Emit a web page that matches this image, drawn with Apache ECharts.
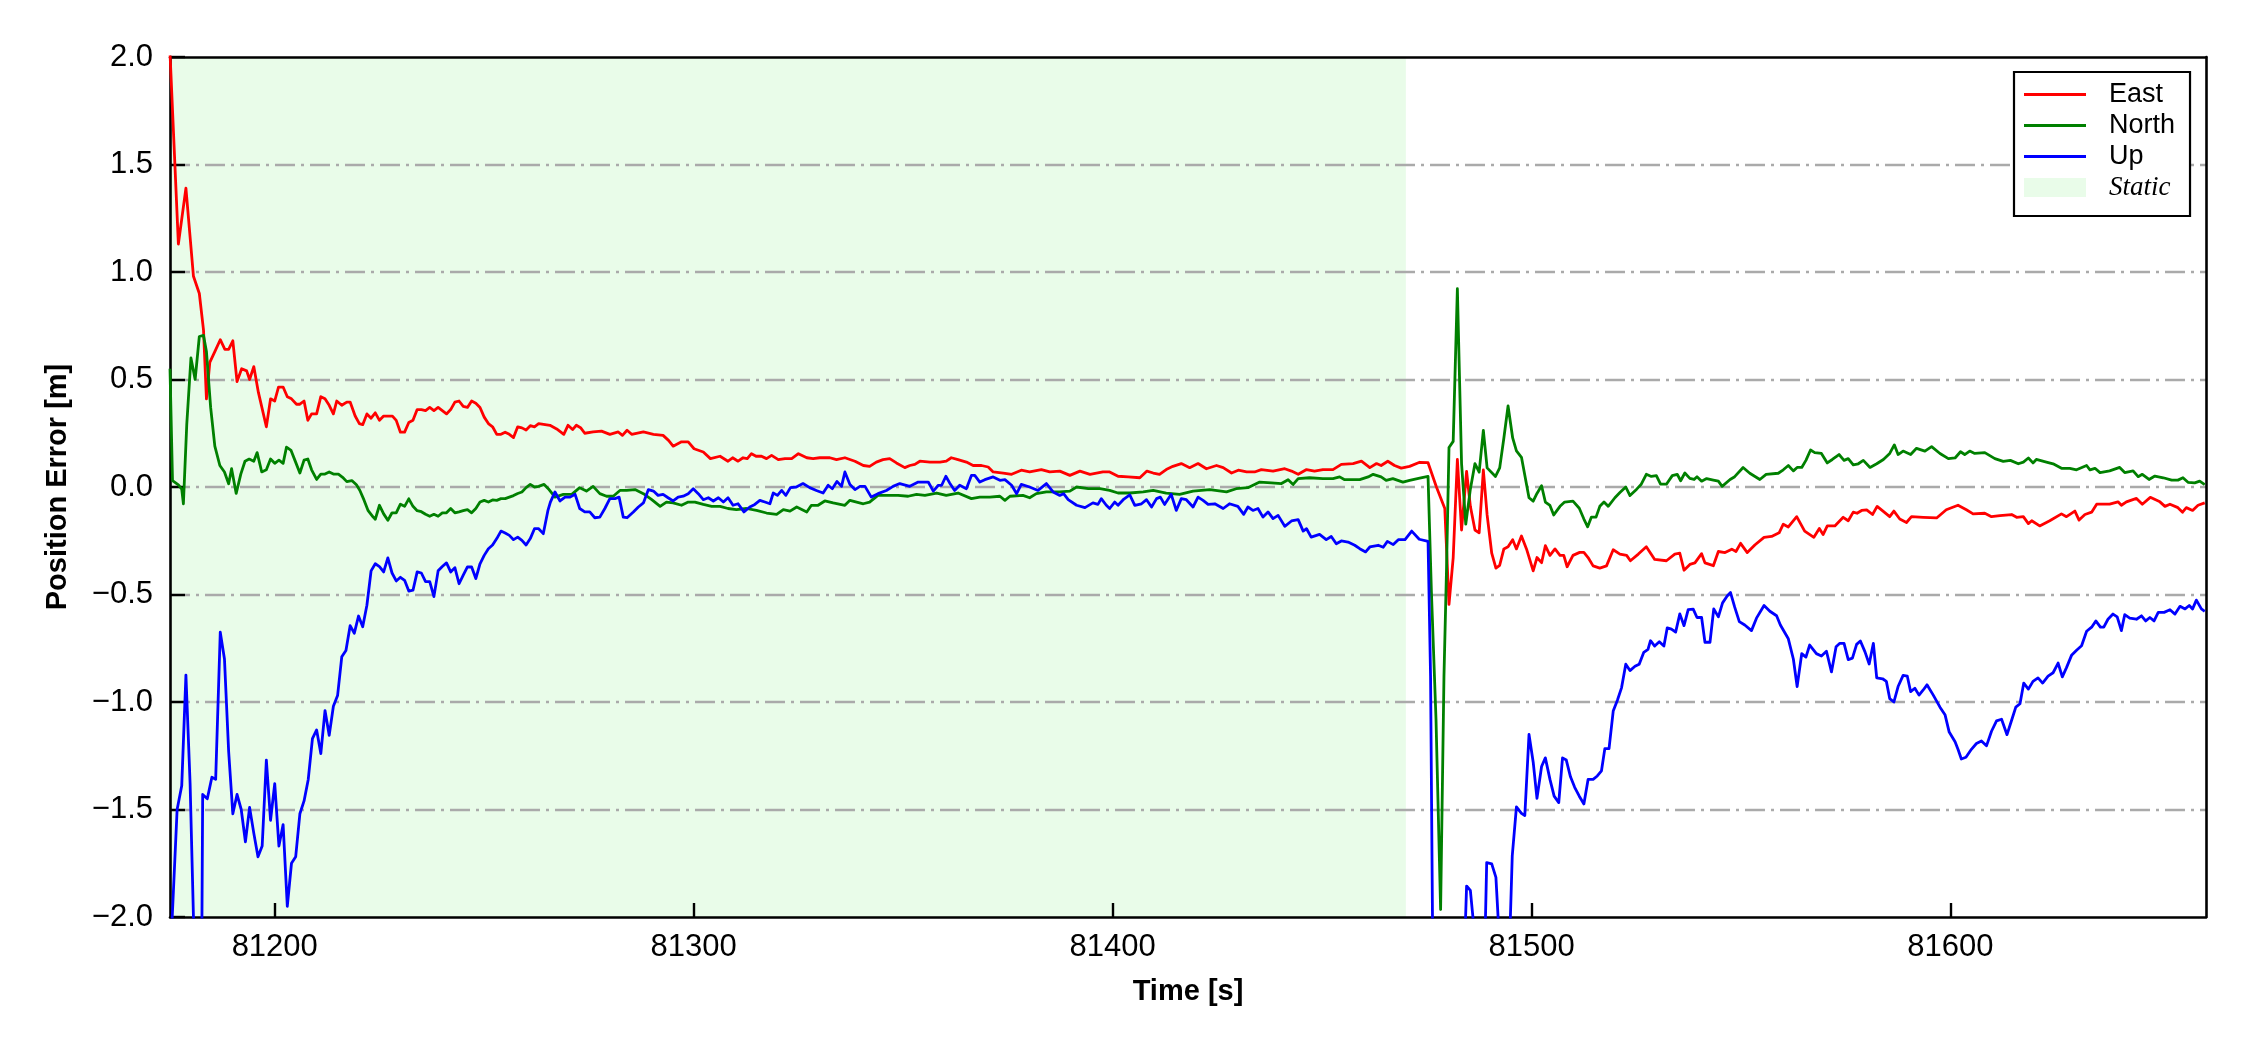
<!DOCTYPE html>
<html>
<head>
<meta charset="utf-8">
<script src="https://cdn.jsdelivr.net/npm/echarts@6/dist/echarts.min.js"></script>
<style>
html,body{margin:0;padding:0;background:#fff;}
#chart{width:2250px;height:1050px;}
</style>
</head>
<body>
<div id="chart"></div>
<script>
// ---------------- data ----------------
const xRange = [81175, 81661];
const yRange = [-2, 2];
const xTicks = [81200, 81300, 81400, 81500, 81600];
const staticRange = [81175, 81470];
const seriesNames = ['East', 'North', 'Up', 'Static'];

const eastPts = [[81175,2.02],[81177,1.13],[81178.8,1.39],[81180.6,0.98],[81182,0.90],[81183,0.73],[81183.7,0.41],[81184.5,0.58],[81185.7,0.63],[81187,0.685],[81188.1,0.64],[81189,0.64],[81190,0.68],[81191,0.49],[81192.1,0.55],[81193.3,0.54],[81194,0.50],[81195,0.56],[81196.1,0.44],[81198,0.28],[81199,0.41],[81200,0.40],[81200.9,0.465],[81202,0.465],[81203,0.42],[81204,0.41],[81205.2,0.385],[81206,0.385],[81207,0.40],[81207.9,0.31],[81208.8,0.34],[81210,0.34],[81211,0.42],[81212,0.41],[81213,0.38],[81214,0.34],[81214.8,0.40],[81216,0.38],[81217.2,0.395],[81218,0.395],[81219.2,0.33],[81220.2,0.295],[81221,0.29],[81222,0.34],[81223,0.32],[81224,0.345],[81225,0.31],[81226,0.33],[81227.1,0.33],[81228.1,0.33],[81229,0.31],[81230,0.255],[81231,0.255],[81232,0.30],[81233,0.31],[81234,0.36],[81235,0.36],[81236,0.355],[81237,0.37],[81238,0.355],[81239,0.37],[81240,0.355],[81241,0.34],[81242,0.36],[81243,0.395],[81244,0.40],[81245,0.375],[81246,0.37],[81247,0.40],[81248,0.39],[81249,0.37],[81250,0.325],[81251,0.295],[81252,0.28],[81253,0.245],[81254,0.245],[81255,0.255],[81256,0.245],[81257,0.23],[81258,0.28],[81259,0.275],[81260,0.265],[81261,0.285],[81262,0.28],[81263,0.295],[81265.7,0.287],[81267.3,0.27],[81269,0.245],[81270,0.287],[81271.1,0.267],[81272,0.287],[81273,0.276],[81274,0.25],[81276,0.256],[81278,0.26],[81280,0.245],[81282,0.256],[81283,0.24],[81284.1,0.264],[81285.2,0.245],[81288,0.256],[81290.4,0.245],[81292.7,0.24],[81294,0.217],[81295.1,0.19],[81297.1,0.21],[81298.7,0.21],[81300.1,0.178],[81302.3,0.163],[81304,0.132],[81306.3,0.143],[81308.2,0.12],[81309.3,0.136],[81310.6,0.12],[81311.8,0.136],[81312.8,0.132],[81313.8,0.155],[81314.9,0.143],[81316.2,0.143],[81317.4,0.132],[81318.6,0.147],[81320.2,0.127],[81321.8,0.132],[81323.4,0.132],[81325,0.155],[81327,0.136],[81328.5,0.132],[81330.1,0.136],[81332.5,0.136],[81334.1,0.127],[81336.1,0.136],[81338.5,0.12],[81340.5,0.10],[81342,0.096],[81343.6,0.116],[81345.2,0.127],[81346.8,0.132],[81348.4,0.112],[81350.4,0.09],[81351.6,0.10],[81352.8,0.105],[81354,0.12],[81356.4,0.116],[81358.8,0.116],[81360.3,0.12],[81361.5,0.136],[81363.1,0.127],[81365.1,0.116],[81366.7,0.10],[81368.7,0.10],[81370.3,0.093],[81371.5,0.07],[81373.9,0.065],[81375.9,0.059],[81378.2,0.078],[81380.2,0.07],[81383,0.081],[81385,0.07],[81387.4,0.074],[81389.8,0.054],[81392.2,0.074],[81394.6,0.059],[81397.7,0.07],[81399.3,0.07],[81401.3,0.05],[81403.7,0.047],[81406.5,0.043],[81408.2,0.074],[81409.7,0.065],[81411.2,0.059],[81412.8,0.081],[81414.4,0.096],[81416.4,0.109],[81418.4,0.09],[81420.4,0.109],[81422.4,0.085],[81424.8,0.10],[81426.4,0.09],[81428.4,0.065],[81430,0.078],[81432,0.07],[81433.9,0.07],[81435.5,0.081],[81438.3,0.074],[81441.1,0.085],[81442.7,0.074],[81444.3,0.059],[81446.3,0.081],[81448.2,0.074],[81450.2,0.081],[81452.6,0.081],[81454.6,0.105],[81457.4,0.109],[81459.4,0.12],[81461.4,0.09],[81463,0.109],[81464.1,0.10],[81465.7,0.12],[81467.3,0.10],[81468.9,0.088],[81470.9,0.096],[81473.3,0.115],[81475.3,0.113],[81477.3,0.0],[81479.3,-0.10],[81480.3,-0.546],[81481.3,-0.33],[81482.3,0.128],[81483.3,-0.20],[81484.5,0.073],[81485.4,-0.09],[81486.5,-0.20],[81487.5,-0.213],[81488.5,0.079],[81489.4,-0.13],[81490.5,-0.308],[81491.5,-0.377],[81492.4,-0.364],[81493.4,-0.288],[81494.4,-0.278],[81495.5,-0.245],[81496.4,-0.288],[81497.6,-0.228],[81498.8,-0.288],[81500.4,-0.39],[81501.3,-0.328],[81502.4,-0.352],[81503.3,-0.273],[81504.4,-0.318],[81505.6,-0.288],[81506.8,-0.318],[81507.7,-0.318],[81508.5,-0.371],[81509.9,-0.318],[81511.5,-0.304],[81512.5,-0.304],[81513.5,-0.328],[81514.7,-0.367],[81516.3,-0.377],[81517.9,-0.367],[81519.5,-0.292],[81521.1,-0.312],[81522.7,-0.318],[81523.6,-0.343],[81525.5,-0.312],[81527.4,-0.278],[81529.4,-0.337],[81532.2,-0.343],[81534.2,-0.312],[81535.4,-0.308],[81536.4,-0.387],[81537.8,-0.36],[81539,-0.353],[81540.6,-0.31],[81541.4,-0.353],[81543.4,-0.366],[81544.6,-0.30],[81546.2,-0.305],[81547.8,-0.289],[81548.8,-0.30],[81549.9,-0.262],[81551.5,-0.305],[81553.3,-0.27],[81555.5,-0.234],[81557.3,-0.23],[81559.1,-0.213],[81560.1,-0.173],[81561.3,-0.186],[81563.3,-0.138],[81565.2,-0.205],[81567.4,-0.234],[81568.7,-0.193],[81569.6,-0.221],[81570.6,-0.181],[81572.4,-0.181],[81574.4,-0.141],[81575.6,-0.157],[81576.8,-0.117],[81577.7,-0.122],[81578.8,-0.109],[81580,-0.106],[81581.4,-0.128],[81582.5,-0.09],[81583.9,-0.112],[81585.5,-0.138],[81586.5,-0.112],[81587.9,-0.149],[81589.5,-0.165],[81590.7,-0.138],[81593.5,-0.141],[81596.7,-0.144],[81599,-0.106],[81601.8,-0.085],[81603.8,-0.106],[81605.4,-0.125],[81608.2,-0.122],[81609.8,-0.138],[81611.8,-0.133],[81614.6,-0.128],[81615.8,-0.141],[81617.4,-0.138],[81618.6,-0.17],[81619.4,-0.157],[81621.3,-0.181],[81623.7,-0.157],[81626.5,-0.125],[81627.7,-0.138],[81629.7,-0.112],[81630.7,-0.154],[81632.1,-0.128],[81633.7,-0.117],[81634.9,-0.08],[81638,-0.08],[81640,-0.069],[81640.8,-0.085],[81642,-0.069],[81644.4,-0.053],[81645.8,-0.08],[81647.7,-0.048],[81650,-0.069],[81651.2,-0.09],[81652.4,-0.08],[81654.3,-0.096],[81655.4,-0.117],[81656.3,-0.096],[81657.8,-0.109],[81659.1,-0.085],[81660.7,-0.074]];

const northPts = [[81175,0.55],[81175.6,0.03],[81177,0.01],[81177.8,-0.01],[81178.2,-0.078],[81179,0.29],[81180,0.60],[81181,0.50],[81182,0.70],[81183,0.705],[81183.7,0.63],[81184.7,0.37],[81185.7,0.19],[81186.9,0.10],[81188,0.07],[81189,0.015],[81189.7,0.085],[81190.8,-0.03],[81191.9,0.06],[81192.9,0.12],[81193.9,0.13],[81195,0.12],[81195.8,0.16],[81196.9,0.07],[81198,0.08],[81199,0.13],[81200,0.11],[81201,0.125],[81202,0.11],[81202.8,0.185],[81203.9,0.17],[81204.8,0.125],[81206,0.065],[81207,0.125],[81207.9,0.13],[81208.8,0.08],[81210,0.035],[81211,0.06],[81212,0.06],[81213,0.07],[81214,0.06],[81215.2,0.06],[81216.2,0.045],[81217.2,0.025],[81218.4,0.03],[81219.5,0.01],[81220.3,-0.015],[81221.3,-0.06],[81222.3,-0.11],[81223.5,-0.14],[81224,-0.15],[81225,-0.085],[81226,-0.125],[81227,-0.155],[81228,-0.12],[81229,-0.12],[81230,-0.08],[81231,-0.09],[81232,-0.055],[81233,-0.09],[81234,-0.11],[81235,-0.115],[81236,-0.127],[81237,-0.136],[81238,-0.127],[81239,-0.136],[81240,-0.12],[81241,-0.12],[81242,-0.10],[81243,-0.12],[81244,-0.116],[81245,-0.11],[81246,-0.105],[81247,-0.12],[81248,-0.10],[81249,-0.07],[81250,-0.062],[81251,-0.07],[81252,-0.06],[81253,-0.062],[81254,-0.054],[81255,-0.054],[81256,-0.047],[81257,-0.04],[81258,-0.03],[81259,-0.023],[81260,-0.003],[81261,0.012],[81262,0.0],[81263,0.003],[81264.3,0.012],[81265.3,-0.008],[81266.9,-0.047],[81268.9,-0.034],[81270.9,-0.034],[81272.8,-0.003],[81274.4,-0.019],[81276,0.003],[81277.6,-0.031],[81279.2,-0.043],[81280.8,-0.043],[81282.4,-0.016],[81284,-0.016],[81286,-0.012],[81288,-0.031],[81290,-0.059],[81292,-0.09],[81293.5,-0.07],[81295.1,-0.074],[81297.1,-0.085],[81298.7,-0.07],[81300.3,-0.07],[81302.3,-0.081],[81304.3,-0.09],[81306.3,-0.09],[81308.2,-0.10],[81310.2,-0.105],[81312.6,-0.10],[81315,-0.109],[81317.4,-0.121],[81319.8,-0.127],[81321.4,-0.105],[81323,-0.112],[81324.6,-0.093],[81327,-0.116],[81328.1,-0.085],[81329.7,-0.085],[81331.3,-0.065],[81333.3,-0.074],[81336.1,-0.085],[81337.3,-0.062],[81338.9,-0.07],[81340.5,-0.078],[81342,-0.07],[81344,-0.039],[81346.4,-0.039],[81348.8,-0.039],[81351.2,-0.043],[81353.2,-0.034],[81355.2,-0.039],[81358,-0.028],[81360.3,-0.039],[81363.1,-0.028],[81366.3,-0.054],[81368.3,-0.047],[81370.7,-0.047],[81373.1,-0.043],[81374.3,-0.062],[81375.5,-0.043],[81378.6,-0.039],[81380.2,-0.05],[81381.8,-0.031],[81384.2,-0.023],[81387.4,-0.023],[81389.8,-0.019],[81391.4,0.0],[81394.2,-0.008],[81397,-0.008],[81399.3,-0.016],[81401.3,-0.028],[81404.1,-0.028],[81407.3,-0.023],[81409.7,-0.016],[81412.8,-0.028],[81416,-0.034],[81419.2,-0.019],[81423.2,-0.012],[81427.2,-0.023],[81429.5,-0.008],[81432.3,-0.003],[81435.1,0.023],[81437.9,0.019],[81440.3,0.016],[81441.9,0.034],[81443.1,0.012],[81444.3,0.039],[81447,0.043],[81450.2,0.039],[81452.6,0.039],[81454.2,0.047],[81455.4,0.034],[81459,0.034],[81461,0.047],[81462.2,0.059],[81464.1,0.047],[81465.3,0.031],[81466.9,0.039],[81469.3,0.023],[81470.9,0.031],[81473.3,0.041],[81475.3,0.049],[81476.1,-0.486],[81477.2,-1.08],[81478.3,-1.965],[81479.1,-0.88],[81479.7,-0.39],[81480.3,0.184],[81481.3,0.212],[81482.3,0.922],[81483.3,0.109],[81484.3,-0.173],[81485.4,-0.01],[81486.5,0.109],[81487.5,0.069],[81488.5,0.263],[81489.4,0.089],[81491.4,0.049],[81492.4,0.089],[81493.4,0.228],[81494.4,0.377],[81495.5,0.228],[81496.4,0.168],[81497.6,0.138],[81499.4,-0.05],[81500.4,-0.066],[81501.3,-0.03],[81502.4,0.006],[81503.3,-0.07],[81504.4,-0.086],[81505.3,-0.13],[81506.8,-0.09],[81507.9,-0.07],[81509.9,-0.066],[81511.4,-0.099],[81512.5,-0.149],[81513.4,-0.185],[81514.3,-0.14],[81515.4,-0.14],[81516.3,-0.09],[81517.3,-0.07],[81518.3,-0.09],[81519.9,-0.05],[81521.1,-0.026],[81522.5,0.0],[81523.5,-0.04],[81525.1,-0.01],[81526.2,0.013],[81527.4,0.059],[81528.6,0.049],[81529.8,0.053],[81530.8,0.013],[81532.2,0.013],[81533.6,0.053],[81534.8,0.059],[81535.6,0.029],[81536.6,0.065],[81537.8,0.04],[81538.8,0.035],[81539.5,0.048],[81540.6,0.027],[81541.8,0.039],[81543.4,0.032],[81544.6,0.027],[81545.5,0.003],[81547.4,0.035],[81548.5,0.048],[81550.5,0.091],[81552.1,0.064],[81554.5,0.035],[81556,0.059],[81558.9,0.064],[81560.1,0.08],[81561.3,0.10],[81562.5,0.075],[81563.4,0.091],[81564.5,0.091],[81565.5,0.124],[81566.6,0.172],[81567.6,0.16],[81569.2,0.156],[81570.6,0.112],[81571.8,0.128],[81573.4,0.151],[81574.6,0.124],[81575.6,0.132],[81576.8,0.103],[81578,0.108],[81579.2,0.124],[81580.8,0.091],[81582.4,0.108],[81584,0.128],[81585.5,0.156],[81586.6,0.196],[81587.5,0.151],[81588.7,0.167],[81590.5,0.151],[81591.9,0.18],[81593.9,0.167],[81595.5,0.188],[81597.5,0.156],[81599.5,0.132],[81601.1,0.135],[81602.4,0.164],[81603.4,0.151],[81604.6,0.167],[81605.8,0.156],[81608.2,0.16],[81610.6,0.132],[81612.6,0.119],[81614.3,0.124],[81616.2,0.108],[81617.4,0.116],[81618.6,0.135],[81619.7,0.112],[81620.5,0.128],[81622.9,0.116],[81624.5,0.108],[81626.5,0.087],[81628.5,0.087],[81630.1,0.08],[81632.5,0.10],[81633.3,0.08],[81634.5,0.087],[81635.7,0.067],[81638,0.075],[81640.4,0.091],[81641.6,0.067],[81643.6,0.075],[81644.8,0.048],[81645.8,0.059],[81647.4,0.035],[81648.8,0.051],[81650.8,0.043],[81652.8,0.032],[81654.3,0.032],[81655.5,0.043],[81656.7,0.022],[81658.3,0.019],[81659.5,0.027],[81660.7,0.011]];

const upPts = [[81175,-2.2],[81175.3,-2.1],[81176.7,-1.50],[81177.8,-1.39],[81178.8,-0.875],[81179.8,-1.38],[81180.6,-2.0],[81181.5,-2.4],[81182.6,-2.1],[81182.8,-1.43],[81183.9,-1.45],[81185,-1.35],[81185.9,-1.36],[81187,-0.675],[81188,-0.80],[81189,-1.23],[81190,-1.52],[81191,-1.43],[81192,-1.50],[81193,-1.65],[81194,-1.49],[81195,-1.61],[81196,-1.72],[81197,-1.67],[81198,-1.27],[81199,-1.55],[81200,-1.38],[81201,-1.67],[81202,-1.57],[81203,-1.95],[81204,-1.75],[81205,-1.72],[81206,-1.52],[81207,-1.46],[81208,-1.36],[81209,-1.17],[81210,-1.13],[81211,-1.24],[81212,-1.04],[81213,-1.155],[81214,-1.02],[81215,-0.97],[81216,-0.79],[81217,-0.76],[81218,-0.645],[81219,-0.68],[81220,-0.60],[81221,-0.65],[81222,-0.55],[81223,-0.39],[81224,-0.357],[81225,-0.37],[81226,-0.395],[81227,-0.33],[81228,-0.40],[81229,-0.437],[81230,-0.42],[81231,-0.434],[81232,-0.484],[81233,-0.48],[81234,-0.395],[81235,-0.40],[81236,-0.44],[81237,-0.44],[81238,-0.51],[81239,-0.39],[81240,-0.37],[81241,-0.353],[81242,-0.395],[81243,-0.375],[81244,-0.45],[81245,-0.41],[81246,-0.372],[81247,-0.372],[81248,-0.426],[81249,-0.357],[81250,-0.318],[81251,-0.287],[81252,-0.27],[81253,-0.24],[81254,-0.205],[81255,-0.214],[81256,-0.225],[81257,-0.245],[81258,-0.233],[81259,-0.248],[81260,-0.27],[81261,-0.24],[81262,-0.194],[81263,-0.194],[81264.1,-0.217],[81265.2,-0.11],[81265.8,-0.07],[81266.9,-0.023],[81268.1,-0.065],[81269.3,-0.047],[81270.5,-0.047],[81271.7,-0.034],[81272.8,-0.10],[81274,-0.116],[81275.2,-0.116],[81276.4,-0.143],[81277.6,-0.14],[81278.8,-0.10],[81280,-0.054],[81281.2,-0.054],[81282.2,-0.047],[81283.2,-0.14],[81284.1,-0.143],[81285.6,-0.116],[81286.8,-0.093],[81288,-0.074],[81289.2,-0.012],[81290.4,-0.019],[81291.5,-0.039],[81292.7,-0.034],[81293.9,-0.05],[81295.1,-0.065],[81296.3,-0.047],[81297.5,-0.043],[81298.7,-0.031],[81299.9,-0.008],[81301.1,-0.031],[81302.3,-0.059],[81303.5,-0.05],[81304.7,-0.065],[81305.9,-0.05],[81307.1,-0.07],[81308.2,-0.05],[81309.4,-0.085],[81310.6,-0.078],[81312,-0.116],[81313.4,-0.093],[81314.6,-0.081],[81315.8,-0.062],[81317,-0.07],[81318.2,-0.078],[81319,-0.028],[81320,-0.039],[81321,-0.016],[81322,-0.039],[81323.1,-0.003],[81324.5,0.0],[81326.1,0.016],[81327.7,-0.003],[81329.3,-0.016],[81330.9,-0.028],[81332.1,0.008],[81333.1,-0.008],[81334.2,0.026],[81335.3,0.003],[81336.1,0.07],[81337.3,0.012],[81338.5,-0.012],[81339.7,0.003],[81340.9,0.003],[81342.4,-0.047],[81344,-0.031],[81346,-0.016],[81347.6,0.003],[81349.2,0.016],[81351.6,0.003],[81353.6,0.023],[81356,0.023],[81357.2,-0.019],[81358.4,0.008],[81359.2,0.008],[81360.2,0.05],[81361.1,0.019],[81362.3,-0.016],[81363.5,0.008],[81365.1,-0.008],[81366.3,0.054],[81367.1,0.054],[81368.3,0.023],[81369.5,0.034],[81371.5,0.047],[81373.1,0.031],[81374.3,0.034],[81375.9,0.008],[81377.1,-0.031],[81378.2,0.012],[81380.2,0.0],[81382.2,-0.016],[81384.2,0.016],[81385.8,-0.023],[81387.4,-0.039],[81388.3,-0.031],[81389.4,-0.059],[81391.4,-0.085],[81393.4,-0.096],[81395.3,-0.074],[81396.5,-0.081],[81397.3,-0.054],[81398.5,-0.085],[81399.3,-0.10],[81400.5,-0.07],[81401.3,-0.085],[81402.7,-0.056],[81404.1,-0.037],[81405.3,-0.085],[81406.9,-0.078],[81408.1,-0.059],[81409.3,-0.093],[81410.5,-0.054],[81411.4,-0.047],[81412.4,-0.081],[81414,-0.034],[81415.2,-0.109],[81416.4,-0.054],[81417.6,-0.059],[81419.2,-0.093],[81420.4,-0.047],[81421.6,-0.062],[81422.8,-0.081],[81424.4,-0.078],[81426.4,-0.10],[81427.9,-0.078],[81429.9,-0.09],[81431.3,-0.127],[81432.3,-0.093],[81433.5,-0.109],[81434.7,-0.10],[81435.9,-0.14],[81437.1,-0.116],[81438.3,-0.147],[81439.5,-0.132],[81441.1,-0.183],[81442.7,-0.158],[81444.3,-0.152],[81445.5,-0.205],[81446.3,-0.194],[81447.4,-0.233],[81449.4,-0.22],[81451,-0.245],[81452.2,-0.23],[81453.4,-0.264],[81454.6,-0.251],[81456.2,-0.256],[81457.8,-0.271],[81459,-0.287],[81460.4,-0.302],[81461.4,-0.279],[81463.4,-0.271],[81464.6,-0.28],[81465.6,-0.253],[81467,-0.268],[81468.2,-0.245],[81469.8,-0.245],[81471.4,-0.205],[81473.2,-0.243],[81475.3,-0.253],[81475.9,-0.88],[81476.4,-2.1],[81480,-2.5],[81484.1,-2.1],[81484.5,-1.856],[81485.4,-1.876],[81486.5,-2.1],[81487.7,-2.4],[81488.9,-2.1],[81489.3,-1.747],[81490.5,-1.753],[81491.5,-1.816],[81492.3,-2.1],[81493.5,-2.4],[81494.8,-2.1],[81495.4,-1.716],[81496.4,-1.488],[81497.6,-1.518],[81498.4,-1.528],[81499.4,-1.151],[81500.4,-1.28],[81501.3,-1.448],[81502.4,-1.3],[81503.3,-1.26],[81504.4,-1.36],[81505.4,-1.438],[81506.5,-1.468],[81507.4,-1.26],[81508.3,-1.27],[81509.3,-1.348],[81510.3,-1.397],[81511.4,-1.438],[81512.5,-1.474],[81513.5,-1.36],[81514.7,-1.36],[81515.7,-1.344],[81516.7,-1.32],[81517.5,-1.217],[81518.5,-1.217],[81519.5,-1.042],[81520.5,-0.992],[81521.5,-0.933],[81522.5,-0.824],[81523.5,-0.854],[81524.7,-0.834],[81525.7,-0.824],[81526.8,-0.769],[81527.8,-0.755],[81528.4,-0.715],[81529.4,-0.74],[81530.5,-0.72],[81531.6,-0.74],[81532.4,-0.655],[81533.4,-0.661],[81534.4,-0.675],[81535.4,-0.59],[81536.4,-0.645],[81537.4,-0.57],[81538.6,-0.568],[81539.5,-0.607],[81540.6,-0.607],[81541.4,-0.722],[81542.6,-0.722],[81543.5,-0.567],[81544.6,-0.604],[81545.6,-0.539],[81546.7,-0.507],[81547.5,-0.491],[81548.5,-0.559],[81549.6,-0.626],[81550.9,-0.642],[81552.5,-0.668],[81553.7,-0.61],[81555.5,-0.551],[81556.9,-0.578],[81558.5,-0.599],[81559.4,-0.642],[81561.3,-0.706],[81562.5,-0.80],[81563.4,-0.928],[81564.5,-0.775],[81565.5,-0.791],[81566.4,-0.735],[81568,-0.775],[81569.2,-0.786],[81570.4,-0.764],[81571.6,-0.86],[81572.7,-0.743],[81573.6,-0.727],[81574.6,-0.727],[81575.6,-0.803],[81576.6,-0.796],[81577.6,-0.732],[81578.5,-0.716],[81579.6,-0.767],[81580.6,-0.823],[81581.6,-0.727],[81582.4,-0.888],[81583.8,-0.892],[81584.7,-0.904],[81585.5,-0.984],[81586.5,-1.0],[81587.5,-0.928],[81588.7,-0.876],[81589.7,-0.88],[81590.5,-0.952],[81591.5,-0.936],[81592.5,-0.968],[81593.5,-0.944],[81594.4,-0.92],[81595.9,-0.968],[81597.5,-1.024],[81598.7,-1.059],[81599.7,-1.14],[81601.1,-1.185],[81601.8,-1.22],[81602.6,-1.265],[81603.7,-1.257],[81605,-1.22],[81606.2,-1.193],[81607.4,-1.181],[81608.6,-1.204],[81609.8,-1.136],[81611,-1.088],[81612.2,-1.08],[81613.5,-1.152],[81614.6,-1.085],[81615.6,-1.024],[81616.6,-1.008],[81617.5,-0.912],[81618.6,-0.94],[81619.7,-0.904],[81620.9,-0.888],[81622,-0.912],[81623.3,-0.88],[81624.5,-0.864],[81625.7,-0.819],[81626.7,-0.883],[81627.7,-0.84],[81628.9,-0.783],[81630.1,-0.759],[81631.3,-0.738],[81632.5,-0.671],[81633.7,-0.652],[81634.7,-0.623],[81635.8,-0.652],[81636.6,-0.652],[81637.6,-0.615],[81638.8,-0.591],[81639.8,-0.604],[81640.8,-0.668],[81641.6,-0.594],[81642.8,-0.61],[81644.4,-0.615],[81645.6,-0.599],[81646.6,-0.623],[81647.6,-0.607],[81648.6,-0.623],[81649.6,-0.583],[81651,-0.583],[81652.4,-0.571],[81653.6,-0.591],[81654.8,-0.555],[81656,-0.567],[81657,-0.551],[81657.8,-0.567],[81658.7,-0.526],[81659.9,-0.567],[81660.7,-0.578]];

// ---------------- chart ----------------
const FONT = "'Liberation Sans', Arial, Helvetica, sans-serif";
const COLORS = { East: '#ff0000', North: '#008000', Up: '#0000ff', Static: 'rgb(233,252,233)' };
const lineIcon = 'path://M0 0H62V2.8H0Z';

const chart = echarts.init(document.getElementById('chart'), null, { renderer: 'canvas' });

function fmtY(v) {
  const s = Math.abs(v).toFixed(1);
  return v < 0 ? '\u2212' + s : s;
}

function lineSeries(name, pts) {
  return {
    name: name, type: 'line', data: pts, xAxisIndex: 0, yAxisIndex: 0,
    symbol: 'none', showSymbol: false, clip: true, z: 3,
    lineStyle: { color: COLORS[name], width: 2.8, join: 'round' },
    itemStyle: { color: COLORS[name] },
    emphasis: { disabled: true }
  };
}

const option = {
  animation: false,
  backgroundColor: '#ffffff',
  grid: { left: 170, top: 57, width: 2036, height: 860, show: false, containLabel: false },
  xAxis: [
    {
      type: 'value', min: xRange[0], max: xRange[1], position: 'bottom', z: 2,
      name: 'Time [s]', nameLocation: 'middle', nameGap: 60,
      nameTextStyle: { fontFamily: FONT, fontSize: 29, fontWeight: 'bold', color: '#000' },
      axisLine: { show: true, onZero: false, lineStyle: { color: '#000', width: 2.6 } },
      axisTick: { show: true, inside: true, length: 14, customValues: xTicks, lineStyle: { color: '#000', width: 2.4 } },
      axisLabel: { show: true, customValues: xTicks, margin: 15, fontFamily: FONT, fontSize: 31, color: '#000', formatter: v => String(Math.round(v)) },
      splitLine: { show: false }
    },
    {
      type: 'value', min: xRange[0], max: xRange[1], position: 'top', z: 2,
      axisLine: { show: true, onZero: false, lineStyle: { color: '#000', width: 2.6 } },
      axisTick: { show: false }, axisLabel: { show: false }, splitLine: { show: false }
    }
  ],
  yAxis: [
    {
      type: 'value', min: yRange[0], max: yRange[1], interval: 0.5, position: 'left', z: 2,
      name: 'Position Error [m]', nameLocation: 'middle', nameGap: 98,
      nameTextStyle: { fontFamily: FONT, fontSize: 29, fontWeight: 'bold', color: '#000' },
      axisLine: { show: true, onZero: false, lineStyle: { color: '#000', width: 2.6 } },
      axisTick: { show: true, inside: true, length: 15, lineStyle: { color: '#000', width: 2.4 } },
      axisLabel: { show: true, margin: 17, fontFamily: FONT, fontSize: 31, color: '#000', formatter: fmtY },
      splitLine: { show: true, showMinLine: false, showMaxLine: false, lineStyle: { color: '#aaaaaa', width: 2.4, type: [20, 6, 3, 6] } }
    },
    {
      type: 'value', min: yRange[0], max: yRange[1], interval: 0.5, position: 'right', z: 2,
      axisLine: { show: true, onZero: false, lineStyle: { color: '#000', width: 2.6 } },
      axisTick: { show: false }, axisLabel: { show: false }, splitLine: { show: false }
    }
  ],
  legend: {
    orient: 'vertical', left: 2014, top: 72,
    padding: [9, 15, 15, 10],
    itemWidth: 62, itemHeight: 19, itemGap: 4,
    selectedMode: false,
    borderColor: '#000', borderWidth: 2.2, borderRadius: 0, backgroundColor: '#ffffff',
    textStyle: { fontFamily: FONT, fontSize: 27, lineHeight: 27, color: '#000', padding: [0, 0, 0, 18] },
    data: [
      { name: seriesNames[0], icon: lineIcon },
      { name: seriesNames[1], icon: lineIcon },
      { name: seriesNames[2], icon: lineIcon },
      { name: seriesNames[3], icon: 'rect', textStyle: { fontFamily: "'Liberation Serif', 'Times New Roman', serif", fontStyle: 'italic', fontSize: 27 } }
    ]
  },
  series: [
    {
      name: seriesNames[3], type: 'line', data: [], xAxisIndex: 0, yAxisIndex: 0,
      symbol: 'none', z: 1,
      itemStyle: { color: COLORS.Static },
      lineStyle: { color: COLORS.Static, width: 0 },
      markArea: {
        silent: true, z: 1,
        itemStyle: { color: COLORS.Static, borderWidth: 0 },
        label: { show: false },
        data: [[{ xAxis: staticRange[0] }, { xAxis: staticRange[1] }]]
      }
    },
    lineSeries(seriesNames[0], eastPts),
    lineSeries(seriesNames[1], northPts),
    lineSeries(seriesNames[2], upPts)
  ]
};

chart.setOption(option);
</script>
</body>
</html>
